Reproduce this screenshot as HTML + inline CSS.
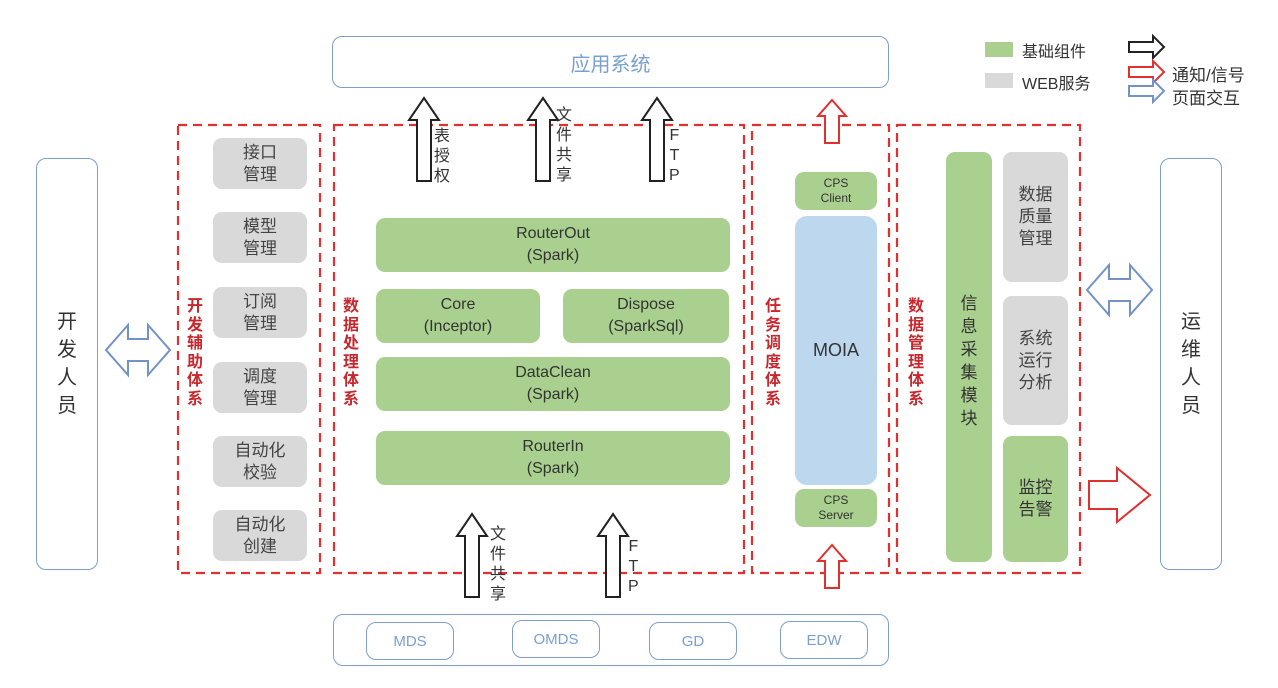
<!DOCTYPE html>
<html><head><meta charset="utf-8"><style>
body{margin:0;width:1278px;height:688px;background:#fff;position:relative;overflow:hidden;font-family:"Liberation Sans","Noto Sans CJK SC",sans-serif;}
.b{position:absolute;box-sizing:border-box;display:flex;align-items:center;justify-content:center;text-align:center;color:#333;}
.g{background:#a9d08e;border-radius:9px;font-size:16px;line-height:22px;}
.gr{background:#d9d9d9;border-radius:9px;font-size:17px;line-height:22px;color:#444;}
.ol{border:1.5px solid #7f9fc8;border-radius:10px;color:#7aa0d0;}
.v{position:absolute;font-size:16px;line-height:20px;text-align:center;color:#333;}
.rv{position:absolute;font-size:16px;line-height:18.5px;font-weight:bold;color:#c8282d;text-align:center;width:20px;}
svg{position:absolute;left:0;top:0;}
</style></head><body>
<svg width="1278" height="688">
<g fill="none" stroke="#e03030" stroke-width="2.2" stroke-dasharray="9,6">
<rect x="178" y="125" width="142" height="448"/>
<rect x="334" y="125" width="410" height="448"/>
<rect x="752" y="125" width="137" height="448"/>
<rect x="897" y="125" width="183" height="448"/>
</g>
<g fill="#fff" stroke="#222" stroke-width="2">
<path d="M424,98 L439,120 L431,120 L431,181 L417,181 L417,120 L409,120 Z"/>
<path d="M543,98 L558,120 L550,120 L550,181 L536,181 L536,120 L528,120 Z"/>
<path d="M657,98 L672,120 L664,120 L664,181 L650,181 L650,120 L642,120 Z"/>
<path d="M472,514 L487,536 L479,536 L479,597 L465,597 L465,536 L457,536 Z"/>
<path d="M613,514 L628,536 L620,536 L620,597 L606,597 L606,536 L598,536 Z"/>
<path d="M1129,42 L1153,42 L1153,36 L1164,47 L1153,58 L1153,52 L1129,52 Z"/>
</g>
<g fill="#fff" stroke="#e03030" stroke-width="2">
<path d="M832,100 L846,116 L839,116 L839,143 L825,143 L825,116 L818,116 Z"/>
<path d="M832,545 L846,561 L839,561 L839,588 L825,588 L825,561 L818,561 Z"/>
<path d="M1089,481 L1117,481 L1117,468 L1150,495 L1117,522 L1117,509 L1089,509 Z"/>
<path d="M1129,67 L1153,67 L1153,61 L1164,72 L1153,83 L1153,77 L1129,77 Z"/>
</g>
<g fill="#fff" stroke="#7292c8" stroke-width="2">
<path d="M106,350 L128,325 L128,339 L148,339 L148,325 L170,350 L148,375 L148,361 L128,361 L128,375 Z"/>
<path d="M1087,290 L1109,265 L1109,279 L1130,279 L1130,265 L1152,290 L1130,315 L1130,301 L1109,301 L1109,315 Z"/>
<path d="M1129,86 L1153,86 L1153,80 L1164,91 L1153,102 L1153,96 L1129,96 Z"/>
</g>
</svg>

<div class="b ol" style="left:332px;top:36px;width:557px;height:52px;font-size:20px;">应用系统</div>
<div class="b ol" style="left:333px;top:614px;width:556px;height:52px;"></div>
<div class="b ol" style="left:366px;top:622px;width:88px;height:38px;font-size:15px;">MDS</div>
<div class="b ol" style="left:512px;top:620px;width:88px;height:38px;font-size:15px;">OMDS</div>
<div class="b ol" style="left:649px;top:622px;width:88px;height:38px;font-size:15px;">GD</div>
<div class="b ol" style="left:780px;top:621px;width:88px;height:38px;font-size:15px;">EDW</div>

<div class="b ol" style="left:36px;top:158px;width:62px;height:412px;color:#333;font-size:20px;line-height:28px;">开<br>发<br>人<br>员</div>
<div class="b ol" style="left:1160px;top:158px;width:62px;height:412px;color:#333;font-size:20px;line-height:28px;">运<br>维<br>人<br>员</div>

<div class="b gr" style="left:213px;top:138px;width:94px;height:51px;">接口<br>管理</div>
<div class="b gr" style="left:213px;top:212px;width:94px;height:51px;">模型<br>管理</div>
<div class="b gr" style="left:213px;top:287px;width:94px;height:51px;">订阅<br>管理</div>
<div class="b gr" style="left:213px;top:362px;width:94px;height:51px;">调度<br>管理</div>
<div class="b gr" style="left:213px;top:436px;width:94px;height:51px;">自动化<br>校验</div>
<div class="b gr" style="left:213px;top:510px;width:94px;height:51px;">自动化<br>创建</div>

<div class="rv" style="left:185px;top:298px;">开发辅助体系</div>
<div class="rv" style="left:341px;top:298px;">数据处理体系</div>
<div class="rv" style="left:763px;top:298px;">任务调度体系</div>
<div class="rv" style="left:906px;top:298px;">数据管理体系</div>

<div class="b g" style="left:376px;top:218px;width:354px;height:54px;">RouterOut<br>(Spark)</div>
<div class="b g" style="left:376px;top:289px;width:164px;height:54px;">Core<br>(Inceptor)</div>
<div class="b g" style="left:563px;top:289px;width:166px;height:54px;">Dispose<br>(SparkSql)</div>
<div class="b g" style="left:376px;top:357px;width:354px;height:54px;">DataClean<br>(Spark)</div>
<div class="b g" style="left:376px;top:431px;width:354px;height:54px;">RouterIn<br>(Spark)</div>

<div class="b g" style="left:795px;top:172px;width:82px;height:38px;font-size:12px;line-height:15px;">CPS<br>Client</div>
<div class="b" style="left:795px;top:216px;width:82px;height:269px;background:#bdd7ee;border-radius:12px;font-size:18px;">MOIA</div>
<div class="b g" style="left:795px;top:489px;width:82px;height:38px;font-size:12px;line-height:15px;">CPS<br>Server</div>

<div class="b g" style="left:946px;top:152px;width:46px;height:410px;font-size:17px;line-height:23px;align-items:flex-start;padding-top:140px;">信<br>息<br>采<br>集<br>模<br>块</div>
<div class="b gr" style="left:1003px;top:152px;width:65px;height:130px;">数据<br>质量<br>管理</div>
<div class="b gr" style="left:1003px;top:296px;width:65px;height:129px;">系统<br>运行<br>分析</div>
<div class="b g" style="left:1003px;top:436px;width:65px;height:126px;font-size:17px;">监控<br>告警</div>

<div class="v" style="left:434px;top:127px;">表<br>授<br>权</div>
<div class="v" style="left:556px;top:106px;">文<br>件<br>共<br>享</div>
<div class="v" style="left:669px;top:126px;">F<br>T<br>P</div>
<div class="v" style="left:490px;top:525px;">文<br>件<br>共<br>享</div>
<div class="v" style="left:628px;top:537px;">F<br>T<br>P</div>

<div style="position:absolute;left:985px;top:42px;width:28px;height:15px;background:#a9d08e;"></div>
<div style="position:absolute;left:985px;top:73px;width:28px;height:15px;background:#d9d9d9;"></div>
<div style="position:absolute;left:1022px;top:38px;font-size:16px;color:#333;">基础组件</div>
<div style="position:absolute;left:1022px;top:70px;font-size:16px;color:#333;">WEB服务</div>
<div style="position:absolute;left:1172px;top:61px;font-size:17px;color:#333;">通知/信号</div>
<div style="position:absolute;left:1172px;top:84px;font-size:17px;color:#333;">页面交互</div>
</body></html>
